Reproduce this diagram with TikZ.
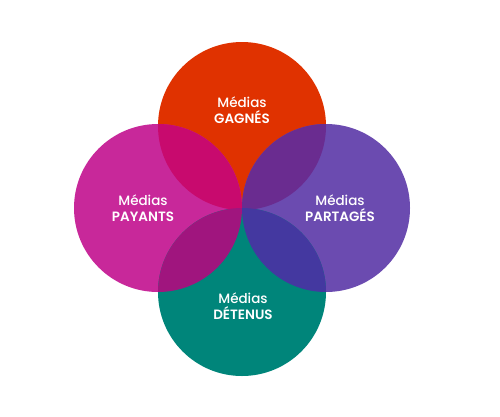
\documentclass[tikz,border=0pt]{standalone}
\usepackage{fontspec}
\setmainfont{Poppins}[UprightFont={Poppins Medium}, BoldFont={Poppins SemiBold}]
\definecolor{cTop}{HTML}{E03200}
\definecolor{cLeft}{HTML}{C8289A}
\definecolor{cRight}{HTML}{6B4BB0}
\definecolor{cBot}{HTML}{00857A}
\definecolor{cTL}{HTML}{C80A6E}
\definecolor{cTR}{HTML}{6A2C90}
\definecolor{cBL}{HTML}{A0157E}
\definecolor{cBR}{HTML}{4438A0}
\tikzset{
  disc/.style={circle, minimum size=168pt, inner sep=0pt, outer sep=0pt},
  lbl/.style={text=white, align=center, font=\fontsize{13.5}{16}\selectfont, inner sep=0pt},
}
\begin{document}
\begin{tikzpicture}[x=1pt,y=-1pt]
\useasboundingbox (0,0) rectangle (500,416);
\node[disc, fill=cTop]   (top)   at (242,126) {};
\node[disc, fill=cLeft]  (left)  at (158,208) {};
\node[disc, fill=cRight] (right) at (326,208) {};
\node[disc, fill=cBot]   (bot)   at (242,292) {};
\begin{scope}
  \clip (158,208) circle (84);
  \fill[cTL] (242,126) circle (84);
\end{scope}
\begin{scope}
  \clip (326,208) circle (84);
  \fill[cTR] (242,126) circle (84);
\end{scope}
\begin{scope}
  \clip (158,208) circle (84);
  \fill[cBL] (242,292) circle (84);
\end{scope}
\begin{scope}
  \clip (326,208) circle (84);
  \fill[cBR] (242,292) circle (84);
\end{scope}
\node[lbl] (ltop)   at (242,110) {Médias\\\textbf{GAGNÉS}};
\node[lbl] (lleft)  at (143,208) {Médias\\\textbf{PAYANTS}};
\node[lbl] (lright) at (340,208) {Médias\\\textbf{PARTAGÉS}};
\node[lbl] (lbot)   at (243,306) {Médias\\\textbf{DÉTENUS}};
\end{tikzpicture}
\end{document}
